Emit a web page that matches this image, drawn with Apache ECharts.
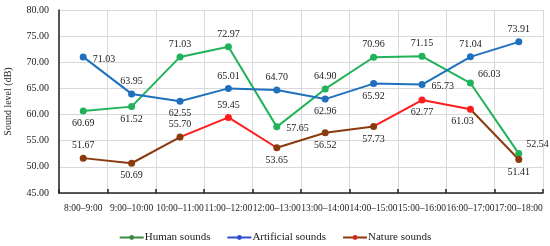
<!DOCTYPE html>
<html>
<head>
<meta charset="utf-8">
<script src="https://cdn.jsdelivr.net/npm/echarts@6/dist/echarts.min.js"></script>
<style>
  html, body { margin: 0; padding: 0; background: #fff; }
  #chart { width: 550px; height: 246px; }
</style>
</head>
<body>
<div id="chart"></div>
<script>
var categories = ['8:00–9:00', '9:00–10:00', '10:00–11:00', '11:00–12:00', '12:00–13:00',
                  '13:00–14:00', '14:00–15:00', '15:00–16:00', '16:00–17:00', '17:00–18:00'];
var humanSounds = [60.69, 61.52, 71.03, 72.97, 57.65, 64.90, 70.96, 71.15, 66.03, 52.54];
var artificialSounds = [71.03, 63.95, 62.55, 65.01, 64.70, 62.96, 65.92, 65.73, 71.04, 73.91];
var natureSounds = [51.67, 50.69, 55.70, 59.45, 53.65, 56.52, 57.73, 62.77, 61.03, 51.41];

// where each value label sits
var humanPos = ['bottom', 'bottom', 'top', 'top', 'right', 'top', 'top', 'top', 'topRight', 'topRight'];
var artificialPos = ['right', 'top', 'bottom', 'top', 'top', 'bottom', 'bottom', 'right', 'top', 'top'];
var naturePos = ['top', 'bottom', 'top', 'top', 'bottom', 'bottom', 'bottom', 'bottom', 'bottomLeft', 'bottom'];

var GREEN = '#21b25a', BLUE = '#1f70bd', RED = '#ff1c1c', BROWN = '#8a3a0c';

var font = 'Liberation Serif';

function labelFor(pos) {
  var l = { show: true, position: pos, distance: 4 };
  if (pos === 'topRight') { l.position = 'right'; l.offset = [0, -9]; }
  if (pos === 'bottomLeft') { l.position = 'bottom'; l.offset = [-8, 0]; }
  if (pos === 'right') { l.offset = [2, 2]; }
  return l;
}

function buildData(values, positions) {
  return values.map(function (v, i) {
    return { value: v, label: labelFor(positions[i]) };
  });
}

var valueLabel = {
  fontFamily: font, fontSize: 10, color: '#222',
  formatter: function (p) { return p.value.toFixed(2); }
};

var chart = echarts.init(document.getElementById('chart'));

var option = {
  animation: false,
  textStyle: { fontFamily: font },
  grid: { left: 59, right: 7, top: 10, bottom: 53, outerBoundsMode: 'none' },
  legend: {
    bottom: -2,
    left: 'center',
    itemWidth: 24,
    itemHeight: 6,
    itemGap: 16,
    textStyle: { fontFamily: font, fontSize: 11, color: '#222', padding: [0, 0, 0, -4] },
    data: [
      { name: 'Human sounds', itemStyle: { color: '#3d8a45' }, lineStyle: { color: '#3d8a45' } },
      { name: 'Artificial sounds', itemStyle: { color: '#2f4fcf' }, lineStyle: { color: '#2f4fcf' } },
      { name: 'Nature sounds', itemStyle: { color: '#d9241a' }, lineStyle: { color: BROWN } }
    ]
  },
  xAxis: {
    type: 'category',
    data: categories,
    boundaryGap: true,
    axisLine: { lineStyle: { color: '#222', width: 1.5 } },
    axisTick: { show: true, inside: true, length: 4, lineStyle: { color: '#222', width: 1.5 } },
    axisLabel: { fontFamily: font, fontSize: 9.5, color: '#222', margin: 10, interval: 0 },
    splitLine: { show: true, lineStyle: { color: '#d9d9d9' } }
  },
  yAxis: {
    type: 'value',
    min: 45,
    max: 80,
    interval: 5,
    name: 'Sound level (dB)',
    nameLocation: 'middle',
    nameGap: 46,
    nameTextStyle: { fontFamily: font, fontSize: 10, color: '#222' },
    axisLine: { show: true, lineStyle: { color: '#222', width: 1.5 } },
    axisTick: { show: false },
    axisLabel: {
      fontFamily: font, fontSize: 10, color: '#222', margin: 10,
      formatter: function (v) { return v.toFixed(2); }
    },
    splitLine: { show: true, lineStyle: { color: '#d9d9d9' } }
  },
  visualMap: {
    show: false,
    type: 'piecewise',
    seriesIndex: 2,
    dimension: 0,
    pieces: [
      { lte: 2, color: BROWN },
      { gt: 2, lt: 4, color: RED },
      { gte: 4, lte: 6, color: BROWN },
      { gt: 6, lte: 8, color: RED },
      { gt: 8, color: BROWN }
    ]
  },
  series: [
    {
      name: 'Human sounds',
      type: 'line',
      symbol: 'circle',
      symbolSize: 7,
      color: GREEN,
      lineStyle: { width: 2, color: GREEN },
      label: valueLabel,
      data: buildData(humanSounds, humanPos)
    },
    {
      name: 'Artificial sounds',
      type: 'line',
      symbol: 'circle',
      symbolSize: 7,
      color: BLUE,
      lineStyle: { width: 2, color: BLUE },
      label: valueLabel,
      data: buildData(artificialSounds, artificialPos)
    },
    {
      name: 'Nature sounds',
      type: 'line',
      symbol: 'circle',
      symbolSize: 7,
      color: BROWN,
      lineStyle: { width: 2 },
      label: valueLabel,
      data: buildData(natureSounds, naturePos)
    }
  ]
};

chart.setOption(option);
</script>
</body>
</html>
